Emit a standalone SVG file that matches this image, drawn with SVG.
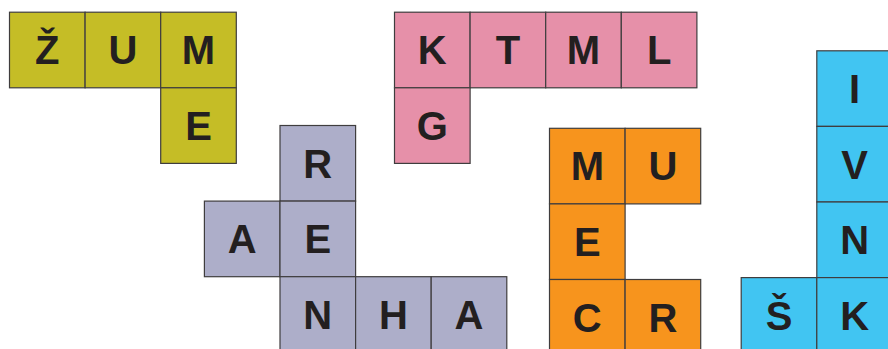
<svg xmlns="http://www.w3.org/2000/svg" width="888" height="349" viewBox="0 0 888 349">
<style>
rect{stroke:#3f3d3e;stroke-width:1.2;width:75.6px;height:75.6px}
.y{fill:#c5bd26}.p{fill:#e690a9}.v{fill:#adaec9}.o{fill:#f7941d}.b{fill:#41c5f2}
text{font-family:"Liberation Sans",Arial,sans-serif;font-weight:bold;font-size:40px;fill:#231f20;text-anchor:middle}
</style>
<rect width="888" height="349" fill="#fff" style="stroke:none;width:888px;height:349px"/>
<g id="yellow">
<g id="y1"><rect class="y" x="9.5" y="12.2" width="75.6" height="75.6"/><text x="47.3" y="64.3">Ž</text></g>
<g id="y2"><rect class="y" x="85.1" y="12.2" width="75.6" height="75.6"/><text x="122.9" y="64.3">U</text></g>
<g id="y3"><rect class="y" x="160.7" y="12.2" width="75.6" height="75.6"/><text x="198.5" y="64.3">M</text></g>
<g id="y4"><rect class="y" x="160.7" y="87.8" width="75.6" height="75.6"/><text x="198.5" y="139.9">E</text></g>
</g>
<g id="pink">
<g id="p1"><rect class="p" x="394.5" y="12.2" width="75.6" height="75.6"/><text x="432.3" y="64.3">K</text></g>
<g id="p2"><rect class="p" x="470.1" y="12.2" width="75.6" height="75.6"/><text x="507.9" y="64.3">T</text></g>
<g id="p3"><rect class="p" x="545.7" y="12.2" width="75.6" height="75.6"/><text x="583.5" y="64.3">M</text></g>
<g id="p4"><rect class="p" x="621.3" y="12.2" width="75.6" height="75.6"/><text x="659.1" y="64.3">L</text></g>
<g id="p5"><rect class="p" x="394.5" y="87.8" width="75.6" height="75.6"/><text x="432.3" y="139.9">G</text></g>
</g>
<g id="purple">
<g id="v1"><rect class="v" x="280" y="125.5" width="75.6" height="75.6"/><text x="317.8" y="177.6">R</text></g>
<g id="v2"><rect class="v" x="204.4" y="201.1" width="75.6" height="75.6"/><text x="242.2" y="253.2">A</text></g>
<g id="v3"><rect class="v" x="280" y="201.1" width="75.6" height="75.6"/><text x="317.8" y="253.2">E</text></g>
<g id="v4"><rect class="v" x="280" y="276.7" width="75.6" height="75.6"/><text x="317.8" y="328.8">N</text></g>
<g id="v5"><rect class="v" x="355.6" y="276.7" width="75.6" height="75.6"/><text x="393.4" y="328.8">H</text></g>
<g id="v6"><rect class="v" x="431.2" y="276.7" width="75.6" height="75.6"/><text x="469" y="328.8">A</text></g>
</g>
<g id="orange">
<g id="o1"><rect class="o" x="549.5" y="128.3" width="75.6" height="75.6"/><text x="587.3" y="180.4">M</text></g>
<g id="o2"><rect class="o" x="625.1" y="128.3" width="75.6" height="75.6"/><text x="662.9" y="180.4">U</text></g>
<g id="o3"><rect class="o" x="549.5" y="203.9" width="75.6" height="75.6"/><text x="587.3" y="256">E</text></g>
<g id="o4"><rect class="o" x="549.5" y="279.5" width="75.6" height="75.6"/><text x="587.3" y="331.6">C</text></g>
<g id="o5"><rect class="o" x="625.1" y="279.5" width="75.6" height="75.6"/><text x="662.9" y="331.6">R</text></g>
</g>
<g id="blue">
<g id="b1"><rect class="b" x="816.8" y="50.8" width="75.6" height="75.6"/><text x="854.6" y="102.9">I</text></g>
<g id="b2"><rect class="b" x="816.8" y="126.4" width="75.6" height="75.6"/><text x="854.6" y="178.5">V</text></g>
<g id="b3"><rect class="b" x="816.8" y="202" width="75.6" height="75.6"/><text x="854.6" y="254.1">N</text></g>
<g id="b4"><rect class="b" x="741.2" y="277.6" width="75.6" height="75.6"/><text x="779" y="329.7">Š</text></g>
<g id="b5"><rect class="b" x="816.8" y="277.6" width="75.6" height="75.6"/><text x="854.6" y="329.7">K</text></g>
</g>
</svg>
